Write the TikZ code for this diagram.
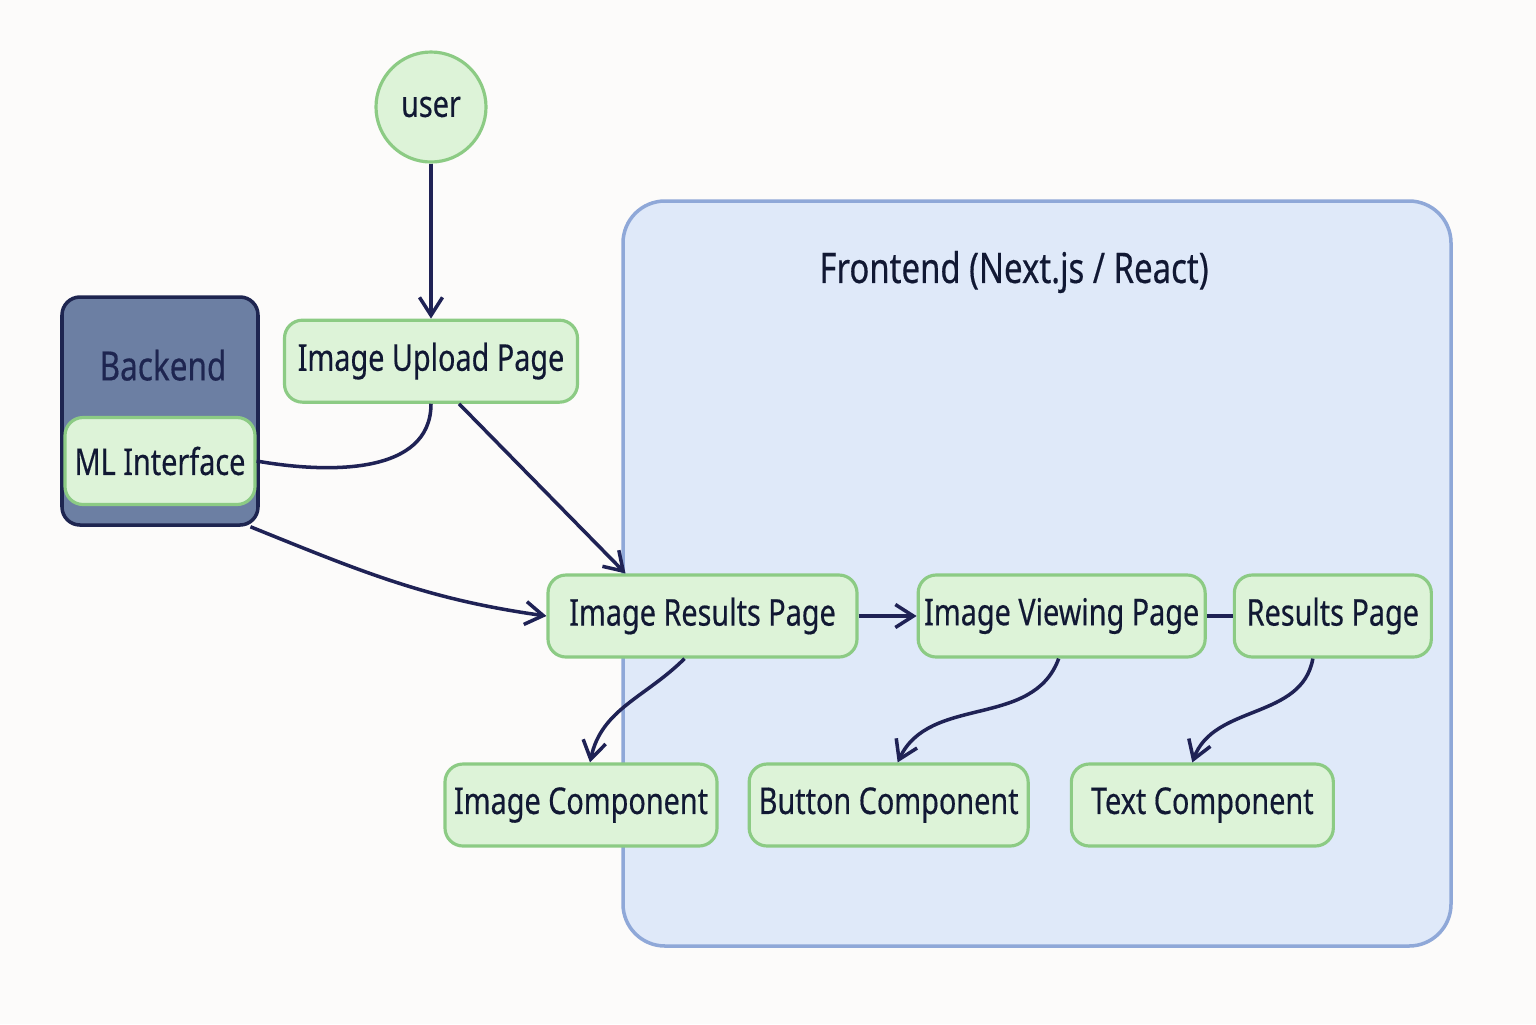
\documentclass[tikz,border=0pt]{standalone}
\usepackage{fontspec}
\setmainfont{Noto Sans}[FakeStretch=0.78, FakeBold=0.4]
\usepackage{xcolor}
\usetikzlibrary{arrows.meta,shapes,positioning,calc}

\definecolor{pagebg}{HTML}{FCFBFA}
\definecolor{nodefill}{HTML}{DDF3D8}
\definecolor{nodeline}{HTML}{8CCB84}
\definecolor{ink}{HTML}{111833}
\definecolor{linkcol}{HTML}{1F2255}
\definecolor{frontfill}{HTML}{DFE9F9}
\definecolor{frontline}{HTML}{8FA8D8}
\definecolor{backfill}{HTML}{6C7FA3}
\definecolor{backline}{HTML}{1E2550}

\begin{document}
\begin{tikzpicture}[
    font=\fontsize{10.5}{12}\selectfont,
    box/.style={rectangle, draw=nodeline, fill=nodefill, line width=0.9pt, rounded corners=0.18cm, minimum height=0.82cm, inner xsep=1pt, text=ink},
    arrow/.style={-{Straight Barb[length=1.8mm,width=2.3mm]}, line width=1pt, draw=linkcol},
    link/.style={line width=1pt, draw=linkcol}
]
\fill[pagebg] (0,0) rectangle (15.36,-10.24);
\useasboundingbox (0,0) rectangle (15.36,-10.24);

% frontend container
\node[rectangle, draw=frontline, fill=frontfill, line width=1pt, rounded corners=0.42cm, minimum width=8.28cm, minimum height=7.45cm] (frontend) at (10.37,-5.735) {};
\node[text=ink, font=\fontsize{12}{14}\selectfont] (frontlabel) at (10.14,-2.72) {Frontend (Next.js / React)};

% backend container
\node[rectangle, draw=backline, fill=backfill, line width=1pt, rounded corners=0.18cm, minimum width=1.96cm, minimum height=2.28cm] (backend) at (1.60,-4.11) {};
\node[text=backline, font=\fontsize{11.5}{13}\selectfont] (backlabel) at ($(backend.north)+(0.03,-0.70)$) {Backend};
\node[box, minimum width=1.90cm, minimum height=0.87cm] (ml) at (1.60,-4.61) {ML Interface};

\node[circle, draw=nodeline, fill=nodefill, line width=0.9pt, minimum size=1.1cm, text=ink] (user) at (4.31,-1.07) {user};
\node[box, minimum width=2.93cm, below=1.55cm of user] (upload) {Image Upload Page};

\node[box, minimum width=3.09cm] (resultsimg) at (7.025,-6.16) {Image Results Page};
\node[box, minimum width=2.87cm, right=0.58cm of resultsimg] (viewing) {Image Viewing Page};
\node[box, minimum width=1.97cm, right=0.26cm of viewing] (results) {Results Page};

\node[box, minimum width=2.72cm] (imagecomp) at (5.81,-8.05) {Image Component};
\node[box, minimum width=2.79cm, right=0.29cm of imagecomp] (buttoncomp) {Button Component};
\node[box, minimum width=2.62cm, right=0.40cm of buttoncomp] (textcomp) {Text Component};

\draw[arrow] (user) -- (upload);
\draw[link] (upload.south) to[out=-90, in=-10] (ml.east);
\draw[arrow] ([xshift=0.28cm]upload.south) -- ([xshift=-0.77cm]resultsimg.north);
\draw[arrow] (backend.-52) to[out=-22, in=172] (resultsimg.west);
\draw[arrow] (resultsimg) -- (viewing);
\draw[link] (viewing) -- (results);
\draw[arrow] ([xshift=-0.18cm]resultsimg.south) to[out=-135, in=78] ([xshift=0.09cm]imagecomp.north);
\draw[arrow] ([xshift=-0.03cm]viewing.south) to[out=-110, in=65] ([xshift=0.09cm]buttoncomp.north);
\draw[arrow] ([xshift=-0.2cm]results.south) to[out=-100, in=70] ([xshift=-0.1cm]textcomp.north);
\end{tikzpicture}
\end{document}
